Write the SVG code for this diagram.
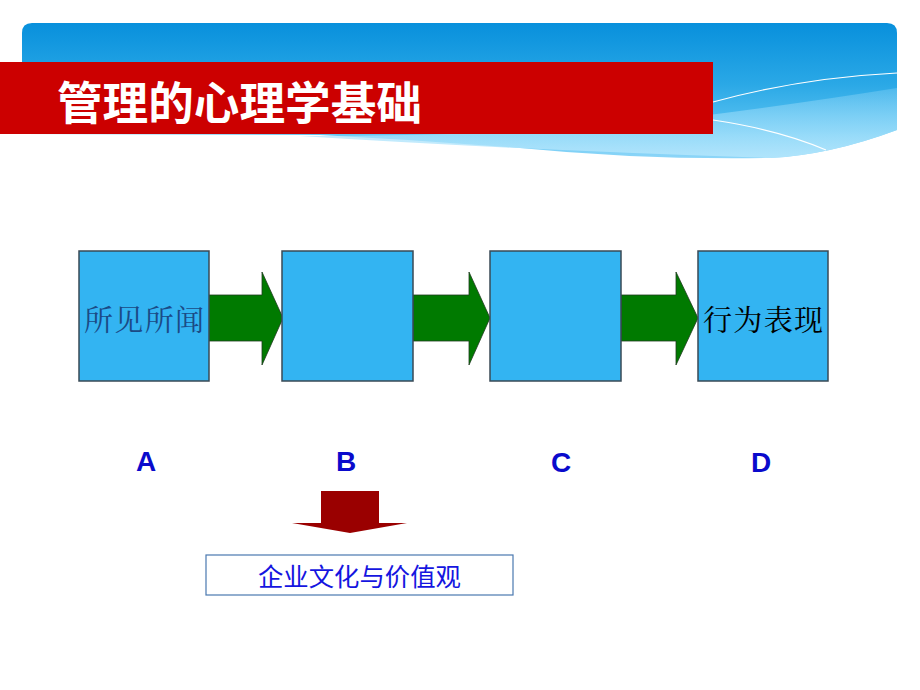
<svg xmlns="http://www.w3.org/2000/svg" width="920" height="690" viewBox="0 0 920 690">
<defs>
<linearGradient id="sky" x1="0" y1="0" x2="0" y2="1">
<stop offset="0" stop-color="#0890DC"/>
<stop offset="0.45" stop-color="#2AA8E6"/>
<stop offset="0.8" stop-color="#5CC4F2"/>
<stop offset="1" stop-color="#8ED6F8"/>
</linearGradient>
<linearGradient id="haze" x1="0" y1="0" x2="0" y2="1">
<stop offset="0" stop-color="#9ADCFA" stop-opacity="0.3"/>
<stop offset="1" stop-color="#B4E6FC" stop-opacity="0.9"/>
</linearGradient>
<style>
.box{fill:#33B4F2;stroke:#3A4A55;stroke-width:1.5}
.arr{fill:#007A00;stroke:#1E3A1E;stroke-width:0.8}
.lbl{font-family:"Liberation Sans",Arial,sans-serif;font-weight:bold;font-size:28px;fill:#0A0ACC;text-anchor:middle}
.cn{font-family:"Noto Serif CJK SC","Noto Sans CJK SC",serif;font-size:29px}
</style>
</defs>
<g id="banner">
<path d="M32 23 H887 Q897 23 897 33 V130 Q830 155 770 158 Q640 160 520 148 Q420 140 320 135 L22 134 V33 Q22 23 32 23 Z" fill="url(#sky)"/>
<path d="M300 136 Q520 150 770 158 Q830 155 897 130 V88 Q760 110 600 128 Q450 136 300 136 Z" fill="url(#haze)"/>
<path d="M713 102 Q800 78 897 73" fill="none" stroke="#FFFFFF" stroke-width="1.2"/>
<path d="M713 120 Q780 130 826 150" fill="none" stroke="#FFFFFF" stroke-width="1.2"/>
<rect x="0" y="62" width="713" height="72" fill="#CC0000"/>
<text x="57" y="120" font-family="'Noto Sans CJK SC',sans-serif" font-weight="bold" font-size="45" fill="#FFFFFF" textLength="365" lengthAdjust="spacingAndGlyphs">管理的心理学基础</text>
</g>
<g id="connectors">
<path class="arr" d="M206 295 H262 V272 L283 318 L262 365 V341 H206 Z"/>
<path class="arr" d="M413 295 H469 V272 L490 318 L469 365 V341 H413 Z"/>
<path class="arr" d="M621 295 H676 V272 L698 318 L676 365 V341 H621 Z"/>
<path d="M321 491 H379 V523 H407 L350 533 L292 523 H321 Z" fill="#9A0000"/>
</g>
<g id="nodeA">
<rect class="box" x="79" y="251" width="130" height="130"/>
<text class="cn" x="84" y="331" fill="#1B4A86" textLength="120">所见所闻</text>
</g>
<g id="nodeB">
<rect class="box" x="282" y="251" width="131" height="130"/>
</g>
<g id="nodeC">
<rect class="box" x="490" y="251" width="131" height="130"/>
</g>
<g id="nodeD">
<rect class="box" x="698" y="251" width="130" height="130"/>
<text class="cn" x="703" y="331" fill="#000000" textLength="120">行为表现</text>
</g>
<g id="labels">
<text class="lbl" x="146" y="471">A</text>
<text class="lbl" x="346" y="471">B</text>
<text class="lbl" x="561" y="472">C</text>
<text class="lbl" x="761" y="472">D</text>
</g>
<g id="culture">
<rect x="206" y="555" width="307" height="40" fill="#FFFFFF" stroke="#4A78B0" stroke-width="1.2"/>
<text x="258" y="586" font-family="'Noto Sans CJK SC',sans-serif" font-size="25" fill="#1515E0" textLength="203" lengthAdjust="spacingAndGlyphs">企业文化与价值观</text>
</g>
</svg>
